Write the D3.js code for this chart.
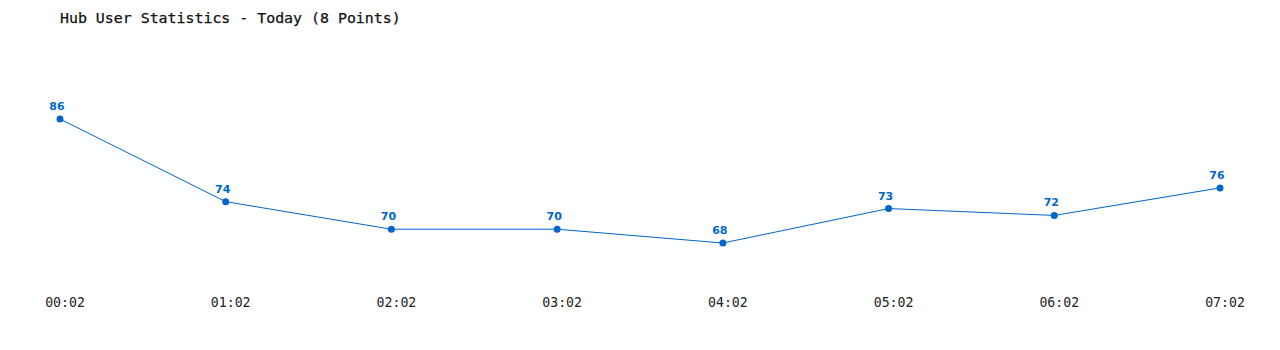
<!DOCTYPE html>
<html>
<head>
<meta charset="utf-8">
<script src="https://cdn.jsdelivr.net/npm/d3@7"></script>
<style>
  html, body { margin: 0; padding: 0; background: #fff; }
  svg { display: block; }
</style>
</head>
<body>
<svg id="chart"></svg>
<script>
const times = ['00:02', '01:02', '02:02', '03:02', '04:02', '05:02', '06:02', '07:02']
const users = [86, 74, 70, 70, 68, 73, 72, 76]
const title = 'Hub User Statistics - Today (8 Points)'

const width = 1280
const height = 350
const color = '#0066cc'

const svg = d3.select('#chart').attr('width', width).attr('height', height)

const x = d3.scalePoint().domain(times).range([60, 1220])
const y = d3.scaleLinear().domain([68, 86]).range([243, 119])

// Title
svg.append('text')
  .attr('x', 60)
  .attr('y', 23)
  .attr('font-family', 'DejaVu Sans Mono, monospace')
  .attr('font-size', 14.9)
  .attr('fill', '#111')
  .attr('stroke', '#111')
  .attr('stroke-width', 0.25)
  .text(title)

// Line
const line = d3.line()
  .x((d, i) => x(times[i]))
  .y(d => y(d))

svg.append('path')
  .datum(users)
  .attr('d', line)
  .attr('fill', 'none')
  .attr('stroke', color)
  .attr('stroke-width', 1)

// Points
svg.selectAll('circle.pt')
  .data(users)
  .enter()
  .append('circle')
  .attr('class', 'pt')
  .attr('cx', (d, i) => x(times[i]))
  .attr('cy', d => y(d))
  .attr('r', 3.5)
  .attr('fill', color)

// Value labels
svg.selectAll('text.val')
  .data(users)
  .enter()
  .append('text')
  .attr('class', 'val')
  .attr('x', (d, i) => x(times[i]) - 3)
  .attr('y', d => y(d) - 9)
  .attr('text-anchor', 'middle')
  .attr('font-family', 'DejaVu Sans, Verdana, sans-serif')
  .attr('font-weight', 'bold')
  .attr('font-size', 11)
  .attr('fill', color)
  .text(d => d)

// X axis labels
svg.selectAll('text.tick')
  .data(times)
  .enter()
  .append('text')
  .attr('class', 'tick')
  .attr('x', d => x(d) + 5)
  .attr('y', 307)
  .attr('text-anchor', 'middle')
  .attr('font-family', 'DejaVu Sans Mono, monospace')
  .attr('font-size', 13.2)
  .attr('fill', '#222')
  .text(d => d)
</script>
</body>
</html>
